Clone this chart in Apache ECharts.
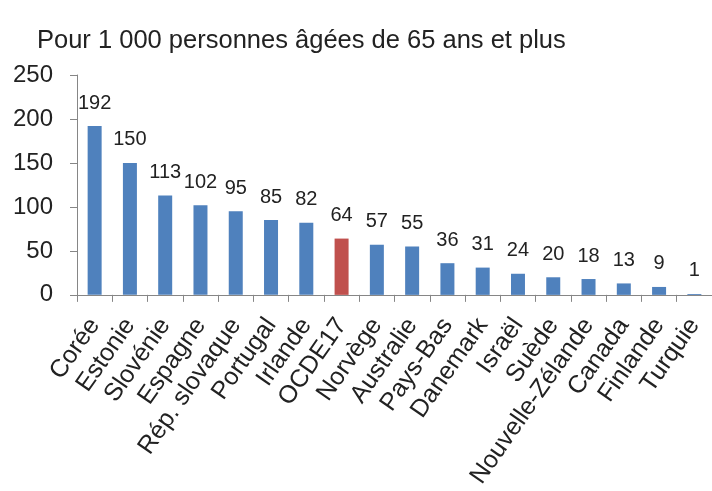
<!DOCTYPE html>
<html>
<head>
<meta charset="utf-8">
<script src="https://cdn.jsdelivr.net/npm/echarts@6/dist/echarts.min.js"></script>
<style>
html,body{margin:0;padding:0;background:#fff;}
#c{width:712px;height:491px;}
</style>
</head>
<body>
<div id="c"></div>
<script>
const categories = ["Corée","Estonie","Slovénie","Espagne","Rép. slovaque","Portugal","Irlande","OCDE17","Norvège","Australie","Pays-Bas","Danemark","Israël","Suède","Nouvelle-Zélande","Canada","Finlande","Turquie"];
const values = [192,150,113,102,95,85,82,64,57,55,36,31,24,20,18,13,9,1];
const highlight = "OCDE17";
const yTicks = [0,50,100,150,200,250];

const chart = echarts.init(document.getElementById('c'));
const font = '"Liberation Sans", Arial, sans-serif';
chart.setOption({
  animation:false,
  title:{text:'Pour 1 000 personnes âgées de 65 ans et plus',left:32,top:23,
    textStyle:{fontFamily:font,fontSize:25.5,fontWeight:'normal',color:'#222'}},
  grid:{left:77,width:643,top:75,bottom:194,containLabel:false},
  xAxis:{type:'category',data:categories,
    axisLine:{lineStyle:{color:'#868686',width:1}},
    axisTick:{show:true,alignWithLabel:false,length:7,lineStyle:{color:'#868686'}},
    axisLabel:{rotate:55,interval:0,margin:26,fontFamily:font,fontSize:25,color:'#222'}},
  yAxis:{type:'value',min:yTicks[0],max:yTicks[yTicks.length-1],interval:50,
    splitLine:{show:false},
    axisLine:{show:true,lineStyle:{color:'#868686',width:1}},
    axisTick:{show:true,inside:false,length:7,lineStyle:{color:'#868686'}},
    axisLabel:{margin:24,fontFamily:font,fontSize:24,color:'#222'}},
  series:[{type:'bar',barWidth:14,
    data:values.map((v,i)=>({value:v,itemStyle:{color:categories[i]===highlight?'#C0504D':'#4F81BD'}})),
    label:{show:true,position:'top',distance:13,fontFamily:font,fontSize:20,color:'#222'}}]
});
</script>
</body>
</html>
